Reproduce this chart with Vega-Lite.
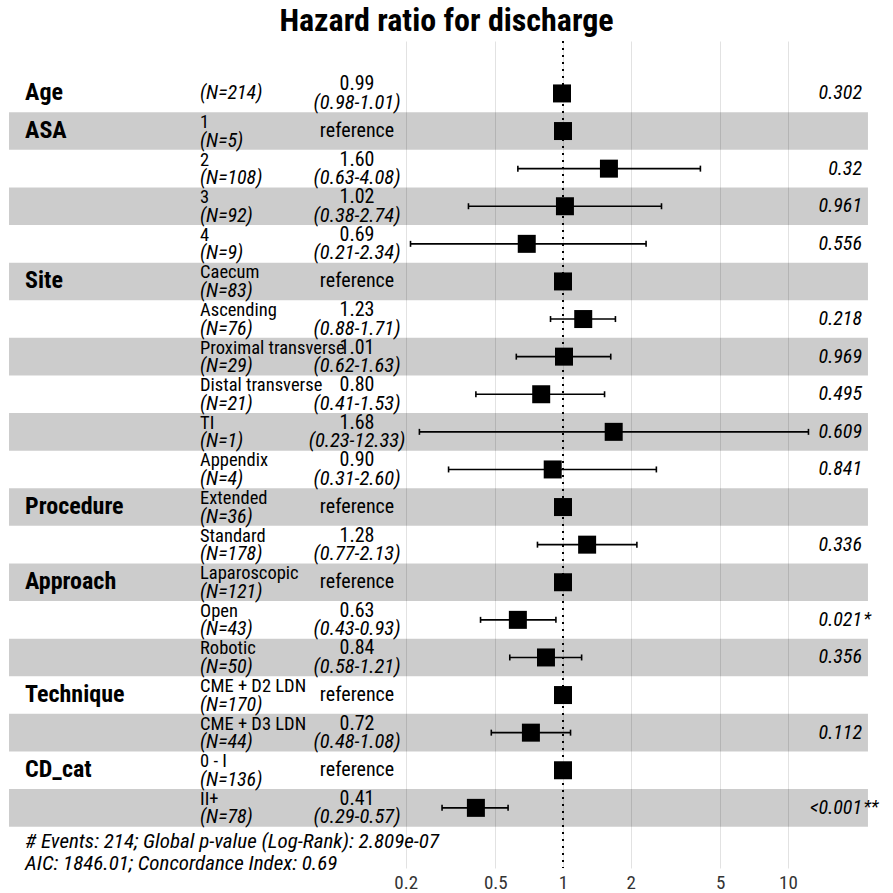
{
  "$schema": "https://vega.github.io/schema/vega-lite/v6.json",
  "width": 893,
  "height": 827,
  "autosize": {"type": "none"},
  "padding": {"top": 41, "left": 0, "right": 0, "bottom": 25},
  "background": "white",
  "config": {
    "view": {"stroke": null},
    "font": "Roboto Condensed, Roboto, sans-serif",
    "text": {"color": "black"}
  },
  "title": {"text": "Hazard ratio for discharge", "fontSize": 32, "fontWeight": "bold", "anchor": "middle", "offset": 2, "color": "black"},
  "data": {"values": [
    {"row": 1, "var": "Age", "level": "", "N": "(N=214)", "est": 0.99, "lo": 0.98, "hi": 1.01, "estLabel": "0.99", "ci": "(0.98-1.01)", "p": "0.302", "stars": ""},
    {"row": 2, "var": "ASA", "level": "1", "N": "(N=5)", "est": 1, "lo": null, "hi": null, "estLabel": "reference", "ci": "", "p": "", "stars": ""},
    {"row": 3, "var": "", "level": "2", "N": "(N=108)", "est": 1.60, "lo": 0.63, "hi": 4.08, "estLabel": "1.60", "ci": "(0.63-4.08)", "p": "0.32", "stars": ""},
    {"row": 4, "var": "", "level": "3", "N": "(N=92)", "est": 1.02, "lo": 0.38, "hi": 2.74, "estLabel": "1.02", "ci": "(0.38-2.74)", "p": "0.961", "stars": ""},
    {"row": 5, "var": "", "level": "4", "N": "(N=9)", "est": 0.69, "lo": 0.21, "hi": 2.34, "estLabel": "0.69", "ci": "(0.21-2.34)", "p": "0.556", "stars": ""},
    {"row": 6, "var": "Site", "level": "Caecum", "N": "(N=83)", "est": 1, "lo": null, "hi": null, "estLabel": "reference", "ci": "", "p": "", "stars": ""},
    {"row": 7, "var": "", "level": "Ascending", "N": "(N=76)", "est": 1.23, "lo": 0.88, "hi": 1.71, "estLabel": "1.23", "ci": "(0.88-1.71)", "p": "0.218", "stars": ""},
    {"row": 8, "var": "", "level": "Proximal transverse", "N": "(N=29)", "est": 1.01, "lo": 0.62, "hi": 1.63, "estLabel": "1.01", "ci": "(0.62-1.63)", "p": "0.969", "stars": ""},
    {"row": 9, "var": "", "level": "Distal transverse", "N": "(N=21)", "est": 0.80, "lo": 0.41, "hi": 1.53, "estLabel": "0.80", "ci": "(0.41-1.53)", "p": "0.495", "stars": ""},
    {"row": 10, "var": "", "level": "TI", "N": "(N=1)", "est": 1.68, "lo": 0.23, "hi": 12.33, "estLabel": "1.68", "ci": "(0.23-12.33)", "p": "0.609", "stars": ""},
    {"row": 11, "var": "", "level": "Appendix", "N": "(N=4)", "est": 0.90, "lo": 0.31, "hi": 2.60, "estLabel": "0.90", "ci": "(0.31-2.60)", "p": "0.841", "stars": ""},
    {"row": 12, "var": "Procedure", "level": "Extended", "N": "(N=36)", "est": 1, "lo": null, "hi": null, "estLabel": "reference", "ci": "", "p": "", "stars": ""},
    {"row": 13, "var": "", "level": "Standard", "N": "(N=178)", "est": 1.28, "lo": 0.77, "hi": 2.13, "estLabel": "1.28", "ci": "(0.77-2.13)", "p": "0.336", "stars": ""},
    {"row": 14, "var": "Approach", "level": "Laparoscopic", "N": "(N=121)", "est": 1, "lo": null, "hi": null, "estLabel": "reference", "ci": "", "p": "", "stars": ""},
    {"row": 15, "var": "", "level": "Open", "N": "(N=43)", "est": 0.63, "lo": 0.43, "hi": 0.93, "estLabel": "0.63", "ci": "(0.43-0.93)", "p": "0.021", "stars": "*"},
    {"row": 16, "var": "", "level": "Robotic", "N": "(N=50)", "est": 0.84, "lo": 0.58, "hi": 1.21, "estLabel": "0.84", "ci": "(0.58-1.21)", "p": "0.356", "stars": ""},
    {"row": 17, "var": "Technique", "level": "CME + D2 LDN", "N": "(N=170)", "est": 1, "lo": null, "hi": null, "estLabel": "reference", "ci": "", "p": "", "stars": ""},
    {"row": 18, "var": "", "level": "CME + D3 LDN", "N": "(N=44)", "est": 0.72, "lo": 0.48, "hi": 1.08, "estLabel": "0.72", "ci": "(0.48-1.08)", "p": "0.112", "stars": ""},
    {"row": 19, "var": "CD_cat", "level": "0 - I", "N": "(N=136)", "est": 1, "lo": null, "hi": null, "estLabel": "reference", "ci": "", "p": "", "stars": ""},
    {"row": 20, "var": "", "level": "II+", "N": "(N=78)", "est": 0.41, "lo": 0.29, "hi": 0.57, "estLabel": "0.41", "ci": "(0.29-0.57)", "p": "<0.001", "stars": "**"}
  ]},
  "layer": [
    {
      "transform": [{"filter": "datum.row % 2 == 0"}],
      "mark": {"type": "rect", "fill": "black", "fillOpacity": 0.2},
      "encoding": {
        "x": {"datum": 0.003449, "type": "quantitative",
          "scale": {"type": "log", "domain": [0.003145, 29.29], "nice": false, "zero": false},
          "axis": {"values": [0.2, 0.5, 1, 2, 5, 10], "format": "~g", "title": null, "domain": false, "ticks": false, "grid": true, "gridColor": "#e2e2e2", "gridWidth": 1, "labelFontSize": 19, "labelColor": "#333333", "labelPadding": 5}},
        "x2": {"datum": 22.67},
        "y": {"field": "row", "type": "ordinal",
          "scale": {"domain": [1,2,3,4,5,6,7,8,9,10,11,12,13,14,15,16,17,18,19,20,21], "paddingInner": 0, "paddingOuter": 0.497, "align": 0.9},
          "axis": null}
      }
    },
    {
      "mark": {"type": "rule", "color": "black", "strokeWidth": 1.8, "strokeDash": [2, 5]},
      "encoding": {"x": {"datum": 1, "type": "quantitative"}}
    },
    {
      "transform": [{"filter": "isValid(datum.lo)"}],
      "mark": {"type": "rule", "color": "black", "strokeWidth": 1.6},
      "encoding": {
        "x": {"field": "lo", "type": "quantitative"},
        "x2": {"field": "hi"},
        "y": {"field": "row", "type": "ordinal"}
      }
    },
    {
      "transform": [{"filter": "isValid(datum.lo)"}],
      "mark": {"type": "tick", "orient": "vertical", "color": "black", "size": 6, "thickness": 1.6, "opacity": 1},
      "encoding": {
        "x": {"field": "lo", "type": "quantitative"},
        "y": {"field": "row", "type": "ordinal"}
      }
    },
    {
      "transform": [{"filter": "isValid(datum.hi)"}],
      "mark": {"type": "tick", "orient": "vertical", "color": "black", "size": 6, "thickness": 1.6, "opacity": 1},
      "encoding": {
        "x": {"field": "hi", "type": "quantitative"},
        "y": {"field": "row", "type": "ordinal"}
      }
    },
    {
      "mark": {"type": "square", "size": 324, "filled": true, "color": "black", "opacity": 1},
      "encoding": {
        "x": {"field": "est", "type": "quantitative"},
        "y": {"field": "row", "type": "ordinal"}
      }
    },
    {
      "transform": [{"filter": "datum.var != ''"}],
      "mark": {"type": "text", "align": "left", "baseline": "middle", "fontSize": 24, "fontWeight": "bold"},
      "encoding": {
        "x": {"datum": 0.004064, "type": "quantitative"},
        "y": {"field": "row", "type": "ordinal"},
        "text": {"field": "var"}
      }
    },
    {
      "transform": [{"filter": "datum.level != ''"}],
      "mark": {"type": "text", "align": "left", "baseline": "middle", "fontSize": 18.5, "dy": -9},
      "encoding": {
        "x": {"datum": 0.02436, "type": "quantitative"},
        "y": {"field": "row", "type": "ordinal"},
        "text": {"field": "level"}
      }
    },
    {
      "transform": [{"filter": "datum.level != ''"}],
      "mark": {"type": "text", "align": "left", "baseline": "middle", "fontSize": 20, "fontStyle": "italic", "dy": 9.5},
      "encoding": {
        "x": {"datum": 0.02436, "type": "quantitative"},
        "y": {"field": "row", "type": "ordinal"},
        "text": {"field": "N"}
      }
    },
    {
      "transform": [{"filter": "datum.level == ''"}],
      "mark": {"type": "text", "align": "left", "baseline": "middle", "fontSize": 20, "fontStyle": "italic"},
      "encoding": {
        "x": {"datum": 0.02436, "type": "quantitative"},
        "y": {"field": "row", "type": "ordinal"},
        "text": {"field": "N"}
      }
    },
    {
      "transform": [{"filter": "datum.estLabel != 'reference'"}],
      "mark": {"type": "text", "align": "center", "baseline": "middle", "fontSize": 20, "dy": -9},
      "encoding": {
        "x": {"datum": 0.1215, "type": "quantitative"},
        "y": {"field": "row", "type": "ordinal"},
        "text": {"field": "estLabel"}
      }
    },
    {
      "transform": [{"filter": "datum.estLabel != 'reference'"}],
      "mark": {"type": "text", "align": "center", "baseline": "middle", "fontSize": 20.5, "fontStyle": "italic", "dy": 9.5},
      "encoding": {
        "x": {"datum": 0.1215, "type": "quantitative"},
        "y": {"field": "row", "type": "ordinal"},
        "text": {"field": "ci"}
      }
    },
    {
      "transform": [{"filter": "datum.estLabel == 'reference'"}],
      "mark": {"type": "text", "align": "center", "baseline": "middle", "fontSize": 20},
      "encoding": {
        "x": {"datum": 0.1215, "type": "quantitative"},
        "y": {"field": "row", "type": "ordinal"},
        "text": {"field": "estLabel"}
      }
    },
    {
      "transform": [{"filter": "datum.p != ''"}],
      "mark": {"type": "text", "align": "right", "baseline": "middle", "fontSize": 20, "fontStyle": "italic"},
      "encoding": {
        "x": {"datum": 21.33, "type": "quantitative"},
        "y": {"field": "row", "type": "ordinal"},
        "text": {"field": "p"}
      }
    },
    {
      "transform": [{"filter": "datum.stars != ''"}],
      "mark": {"type": "text", "align": "left", "baseline": "middle", "fontSize": 18, "fontStyle": "italic"},
      "encoding": {
        "x": {"datum": 21.65, "type": "quantitative"},
        "y": {"field": "row", "type": "ordinal"},
        "text": {"field": "stars"}
      }
    },
    {
      "data": {"values": [{"note": ["# Events: 214; Global p-value (Log-Rank): 2.809e-07", "AIC: 1846.01; Concordance Index: 0.69"]}]},
      "mark": {"type": "text", "align": "left", "baseline": "middle", "fontSize": 21, "fontStyle": "italic", "lineHeight": 22, "dy": -3},
      "encoding": {
        "x": {"datum": 0.004064, "type": "quantitative"},
        "y": {"datum": 21, "type": "ordinal"},
        "text": {"field": "note"}
      }
    }
  ]
}
